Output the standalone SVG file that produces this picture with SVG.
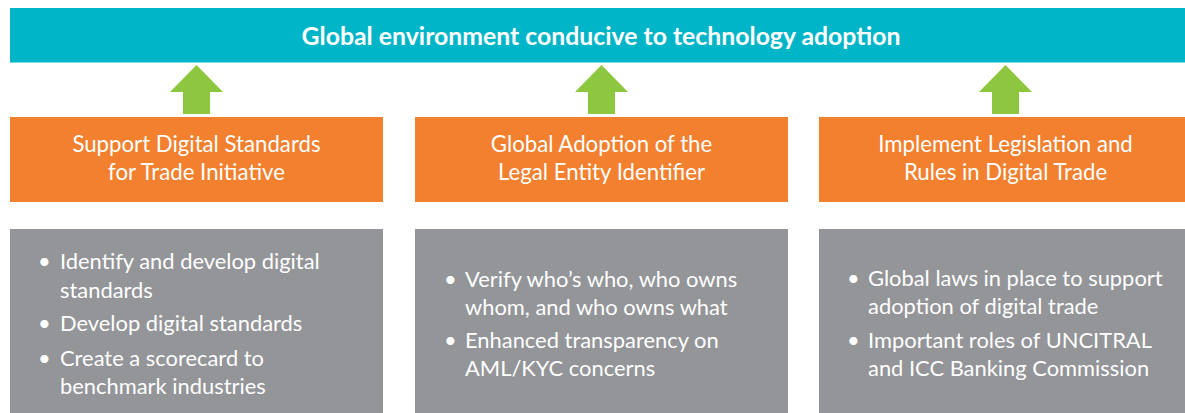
<svg xmlns="http://www.w3.org/2000/svg" width="1185" height="413" viewBox="0 0 1185 413">
<style>
.title{font-family:Lato,"Open Sans",sans-serif;font-size:24.8px;font-weight:bold;fill:#fff;text-anchor:middle}
.head{font-family:Lato,"Open Sans",sans-serif;font-size:22.2px;fill:#fff;text-anchor:middle}
.body{font-family:Lato,"Open Sans",sans-serif;font-size:21.9px;fill:#fff}
.orange{fill:#f2802e}
.gray{fill:#939598}
.arrow{fill:#8dc63f}
</style>
<rect width="1185" height="413" fill="#fff"/>
<g id="goal">
<rect x="10" y="8" width="1175" height="54.5" fill="#00b5c8"/>
<text class="title" x="601" y="44.5">Global environment conducive to technology adoption</text>
</g>
<g id="connectors">
<polygon class="arrow" points="196.5,65 170,92 183,92 183,114 210,114 210,92 223,92"/>
<polygon class="arrow" points="601.5,65 575,92 588,92 588,114 615,114 615,92 628,92"/>
<polygon class="arrow" points="1005.5,65 979,92 992,92 992,114 1019,114 1019,92 1032,92"/>
</g>
<g id="pillar1">
<rect class="orange" x="10" y="117" width="373" height="85"/>
<text class="head" x="196.5" y="152">Support Digital Standards</text>
<text class="head" x="196.5" y="180">for Trade Initiative</text>
</g>
<g id="pillar2">
<rect class="orange" x="415" y="117" width="373" height="85"/>
<text class="head" x="601.5" y="152">Global Adoption of the</text>
<text class="head" x="601.5" y="180">Legal Entity Identifier</text>
</g>
<g id="pillar3">
<rect class="orange" x="819" y="117" width="373" height="85"/>
<text class="head" x="1005.5" y="152">Implement Legislation and</text>
<text class="head" x="1005.5" y="180">Rules in Digital Trade</text>
</g>
<g id="details1">
<rect class="gray" x="10" y="229" width="373" height="190"/>
<text class="body" x="38" y="269">•</text><text class="body" x="60" y="269">Identify and develop digital</text>
<text class="body" x="60" y="297.5">standards</text>
<text class="body" x="38" y="331">•</text><text class="body" x="60" y="331">Develop digital standards</text>
<text class="body" x="38" y="365.5">•</text><text class="body" x="60" y="365.5">Create a scorecard to</text>
<text class="body" x="60" y="394">benchmark industries</text>
</g>
<g id="details2">
<rect class="gray" x="415" y="229" width="373" height="190"/>
<text class="body" x="444" y="286.5">•</text><text class="body" x="465" y="286.5">Verify who’s who, who owns</text>
<text class="body" x="465" y="314.5">whom, and who owns what</text>
<text class="body" x="444" y="347.5">•</text><text class="body" x="465" y="347.5">Enhanced transparency on</text>
<text class="body" x="465" y="375.5">AML/KYC concerns</text>
</g>
<g id="details3">
<rect class="gray" x="819" y="229" width="373" height="190"/>
<text class="body" x="847" y="286">•</text><text class="body" x="868" y="286">Global laws in place to support</text>
<text class="body" x="868" y="314">adoption of digital trade</text>
<text class="body" x="847" y="347.5">•</text><text class="body" x="868" y="347.5">Important roles of UNCITRAL</text>
<text class="body" x="868" y="375.5">and ICC Banking Commission</text>
</g>
</svg>
